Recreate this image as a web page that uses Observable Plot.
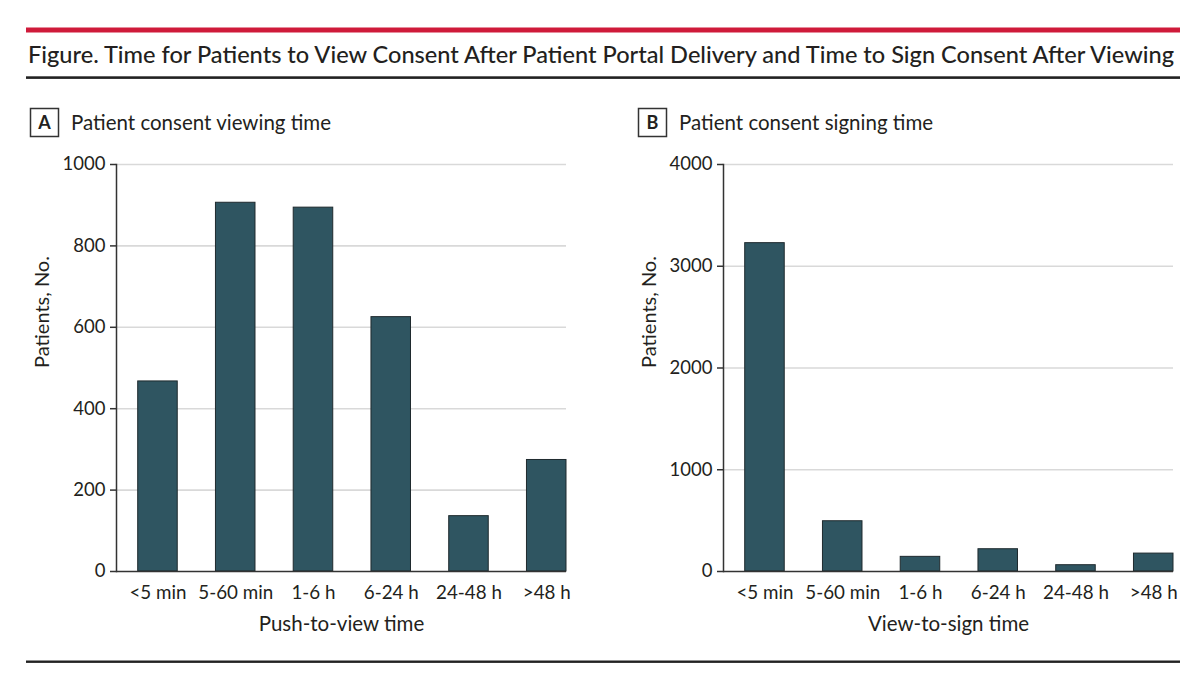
<!DOCTYPE html>
<html>
<head>
<meta charset="utf-8">
<script src="https://cdn.jsdelivr.net/npm/d3@7"></script>
<script src="https://cdn.jsdelivr.net/npm/@observablehq/plot@0.6"></script>
<style>
  html, body { margin: 0; padding: 0; background: #fff; }
  #wrap { position: relative; width: 1200px; height: 687px; overflow: hidden; background: #fff; font-family: Lato, "Open Sans", sans-serif; }
  .panel { position: absolute; top: 140px; }
  #header { position: absolute; left: 0; top: 0; }
</style>
</head>
<body>
<div id="wrap">
  <div id="panelA" class="panel" style="left:0px"></div>
  <div id="panelB" class="panel" style="left:607px"></div>
</div>
<script>
// ---- data ----
const categories = ["<5 min", "5-60 min", "1-6 h", "6-24 h", "24-48 h", ">48 h"];
const viewingCounts = [467, 906, 894, 625, 136, 274];
const signingCounts = [3227, 494, 144, 219, 62, 176];
const yTicksA = [0, 200, 400, 600, 800, 1000];
const yTicksB = [0, 1000, 2000, 3000, 4000];
const figureTitle = "Figure. Time for Patients to View Consent After Patient Portal Delivery and Time to Sign Consent After Viewing";
const panelTitles = ["Patient consent viewing time", "Patient consent signing time"];
const panelLetters = ["A", "B"];
const xLabels = ["Push-to-view time", "View-to-sign time"];
const yLabel = "Patients, No.";

const FONT = "Lato, 'Open Sans', sans-serif";
const INK = "#231f20";

function panel(values, yTicks, xLabel, width, marginRight) {
  const data = categories.map((c, i) => ({cat: c, n: values[i]}));
  const yMax = yTicks[yTicks.length - 1];
  return Plot.plot({
    width,
    height: 520,
    marginLeft: 116,
    marginRight,
    marginTop: 24,
    marginBottom: 89,
    style: {fontFamily: FONT, color: INK, background: "transparent", overflow: "visible"},
    x: {domain: categories, paddingInner: 0.4916, paddingOuter: 0.1396, align: 1, round: false},
    y: {domain: [0, yMax]},
    marks: [
      Plot.ruleY(yTicks.filter(d => d > 0), {stroke: "#d9d9d9", strokeWidth: 1.6}),
      Plot.barY(data, {x: "cat", y: "n", fill: "#2f5561", stroke: "#1f2a2e", strokeWidth: 1}),
      Plot.ruleY([0], {stroke: "#333", strokeWidth: 1.5}),
      Plot.frame({anchor: "left", stroke: "#333", strokeWidth: 1.5}),
      Plot.axisY({ticks: yTicks, tickSize: 6, tickPadding: 5, fontSize: 18.5, label: null, stroke: "#333", strokeWidth: 1.5, tickFormat: d => String(d)}),
      Plot.axisX({tickSize: 0, tickPadding: 14, fontSize: 18.8, label: null}),
      Plot.text([xLabel], {frameAnchor: "bottom", dy: 53, fontSize: 20.5, lineAnchor: "middle", fill: INK}),
      Plot.text([yLabel], {frameAnchor: "left", dx: -74, rotate: -90, fontSize: 20, lineAnchor: "middle", fill: INK})
    ]
  });
}

document.getElementById("panelA").appendChild(panel(viewingCounts, yTicksA, xLabels[0], 600, 34));
document.getElementById("panelB").appendChild(panel(signingCounts, yTicksB, xLabels[1], 593, 27));

// ---- header decorations ----
const svg = d3.create("svg").attr("id", "header").attr("width", 1200).attr("height", 687)
  .style("pointer-events", "none").style("font-family", FONT);
svg.append("rect").attr("x", 26).attr("y", 27.5).attr("width", 1154).attr("height", 5).attr("fill", "#cf1a3a");
svg.append("text").attr("x", 28).attr("y", 63).attr("font-size", 23.5).attr("font-weight", 500)
  .attr("fill", INK).attr("textLength", 1146).attr("lengthAdjust", "spacingAndGlyphs").text(figureTitle);
svg.append("rect").attr("x", 26).attr("y", 76.3).attr("width", 1154).attr("height", 2.6).attr("fill", "#222");
svg.append("rect").attr("x", 26).attr("y", 660.5).attr("width", 1154).attr("height", 2.4).attr("fill", "#222");

[0, 1].forEach(i => {
  const ox = i * 608;
  svg.append("rect").attr("x", 30.5 + ox).attr("y", 108.5).attr("width", 28).attr("height", 28)
    .attr("fill", "none").attr("stroke", "#333").attr("stroke-width", 1.5);
  svg.append("text").attr("x", 44.5 + ox).attr("y", 129).attr("text-anchor", "middle")
    .attr("font-size", 18).attr("font-weight", 700).attr("fill", INK).text(panelLetters[i]);
  svg.append("text").attr("x", 71 + ox).attr("y", 129.5).attr("font-size", 20.5)
    .attr("fill", INK).text(panelTitles[i]);
});
document.getElementById("wrap").appendChild(svg.node());
</script>
</body>
</html>
